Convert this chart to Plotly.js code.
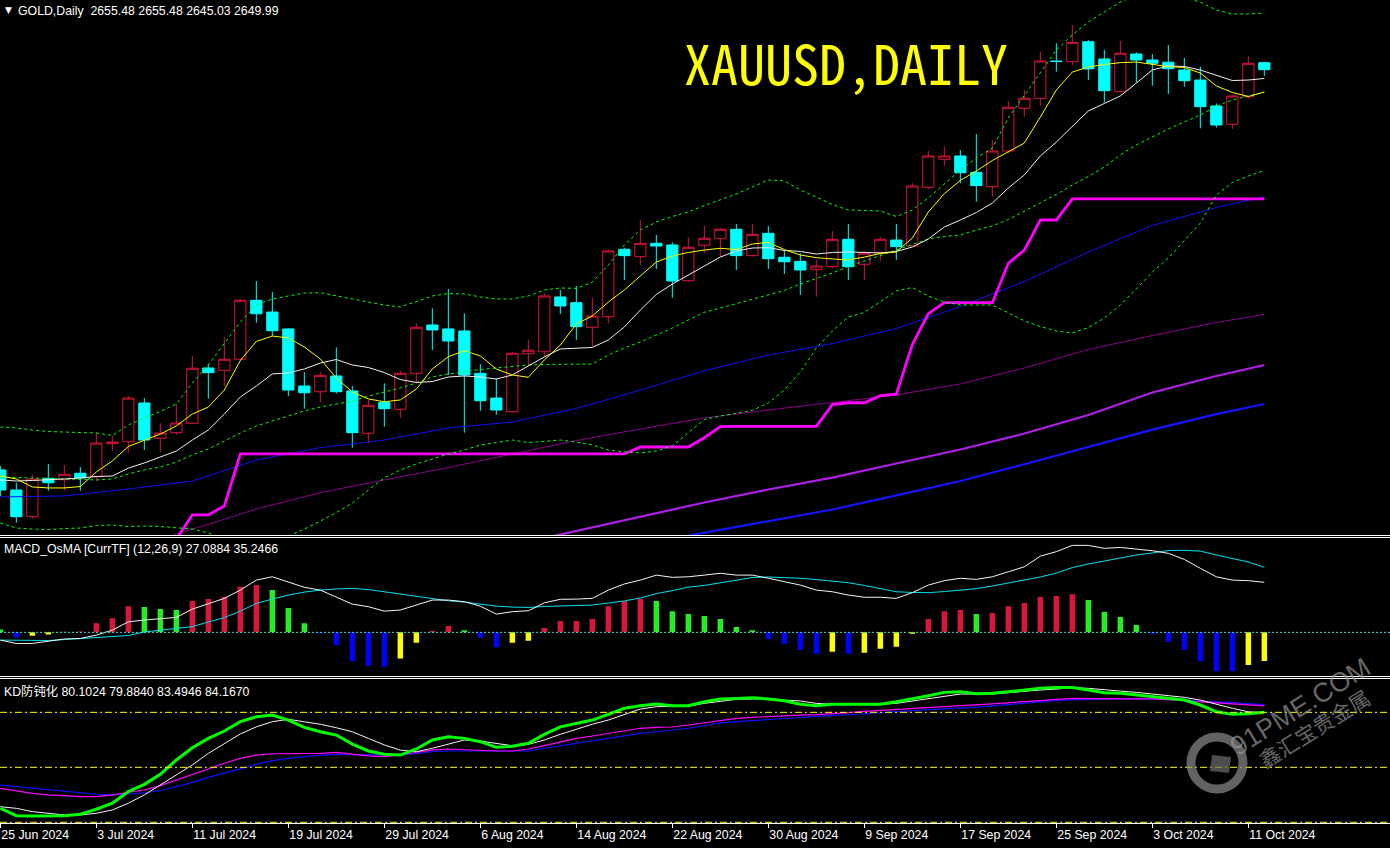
<!DOCTYPE html>
<html><head><meta charset="utf-8">
<script src="https://cdn.plot.ly/plotly-3.0.1.min.js"></script>
<style>html,body{margin:0;padding:0;background:#000;overflow:hidden}#chart{width:1390px;height:848px}</style>
</head><body><div id="chart"></div>
<script>
// ---------- tick labels ----------
const tickIdx = [0,6,12,18,24,30,36,42,48,54,60,66,72,78];
const dateLabels = ['25 Jun 2024','3 Jul 2024','11 Jul 2024','19 Jul 2024','29 Jul 2024','6 Aug 2024','14 Aug 2024','22 Aug 2024','30 Aug 2024','9 Sep 2024','17 Sep 2024','25 Sep 2024','3 Oct 2024','11 Oct 2024'];

// ---------- candles (bar index 0 = 25 Jun 2024 ... 79 = 14 Oct 2024) ----------
const candleOpen = [2334.3,2318.5,2297.4,2327.7,2326.6,2331.7,2329.0,2355.0,2356.6,2387.1,
 2359.3,2363.7,2371.1,2414.7,2412.9,2421.6,2468.1,2458.8,2445.5,2400.5,
 2396.0,2408.4,2396.6,2363.2,2387.6,2382.1,2410.5,2448.6,2445.5,2443.9,
 2410.5,2391.0,2380.2,2426.0,2427.5,2470.7,2466.2,2446.8,2455.2,2508.3,
 2502.5,2513.0,2511.7,2483.5,2511.5,2516.7,2524.1,2503.3,2520.9,2502.0,
 2498.8,2492.5,2494.6,2516.2,2496.5,2505.6,2515.6,2510.9,2557.2,2579.3,
 2581.9,2569.0,2557.7,2585.8,2619.5,2627.4,2656.8,2656.2,2672.0,2658.4,
 2632.6,2662.3,2657.6,2655.8,2649.7,2641.8,2621.3,2606.9,2628.6,2655.48];
const candleHigh = [2337.5,2324.2,2330.3,2339.0,2338.2,2336.6,2364.5,2361.3,2392.6,2391.0,
 2371.1,2386.3,2424.2,2417.8,2438.9,2469.1,2483.3,2474.6,2445.9,2411.5,
 2411.5,2431.0,2400.5,2389.5,2402.6,2412.3,2449.9,2461.8,2477.0,2457.8,
 2417.8,2406.6,2427.5,2436.8,2473.6,2476.2,2479.4,2469.9,2508.3,2509.6,
 2531.4,2519.6,2513.8,2517.8,2526.7,2525.1,2528.2,2528.2,2526.7,2507.0,
 2505.2,2499.9,2522.7,2528.2,2507.0,2518.2,2528.2,2560.4,2585.8,2589.2,
 2586.6,2599.2,2594.5,2625.3,2633.9,2664.1,2670.8,2685.2,2673.3,2665.5,
 2672.6,2663.7,2662.3,2669.4,2659.4,2652.3,2623.4,2630.0,2660.7,2655.48];
const candleLow = [2313.6,2292.7,2295.8,2317.9,2317.9,2317.9,2325.6,2349.5,2347.9,2350.0,
 2348.7,2361.9,2370.3,2390.5,2400.5,2419.7,2450.4,2439.9,2392.6,2382.6,
 2387.3,2394.5,2351.8,2355.3,2368.4,2375.5,2402.6,2428.9,2409.2,2363.7,
 2381.0,2377.9,2379.5,2416.3,2423.6,2457.3,2436.8,2431.5,2449.9,2484.1,
 2495.9,2492.8,2470.1,2482.5,2505.2,2502.5,2492.0,2502.5,2492.8,2488.8,
 2472.3,2470.9,2493.3,2484.1,2484.1,2499.3,2499.9,2510.1,2555.9,2574.2,
 2560.4,2545.8,2549.8,2584.0,2612.9,2621.3,2648.4,2653.6,2641.8,2623.9,
 2632.3,2639.7,2637.3,2630.8,2636.5,2603.7,2604.2,2603.2,2626.8,2645.03];
const candleClose = [2318.5,2297.4,2327.2,2324.2,2330.9,2328.0,2355.5,2356.3,2391.0,2357.9,
 2363.4,2371.3,2414.5,2411.0,2421.6,2468.1,2457.5,2444.1,2397.3,2395.2,
 2408.9,2396.0,2363.7,2385.3,2382.6,2410.5,2446.8,2444.7,2436.0,2409.2,
 2388.9,2381.6,2426.3,2428.7,2471.5,2463.6,2447.3,2455.7,2507.0,2503.3,
 2513.0,2510.9,2483.3,2509.9,2517.0,2524.1,2503.3,2520.1,2500.9,2498.5,
 2492.0,2495.1,2516.2,2494.6,2505.2,2516.2,2510.4,2558.2,2581.9,2581.9,
 2568.7,2558.5,2585.8,2620.3,2627.4,2656.8,2656.4,2671.5,2650.5,2633.4,
 2662.9,2657.6,2655.0,2650.7,2641.3,2620.8,2606.3,2629.2,2655.0,2649.99];

// ---------- main-pane indicator lines (read per bar) ----------
const maYellow = [2329.5,2327.2,2320.9,2320.1,2320.1,2321.2,2332.7,2341.4,2352.8,2357.9,
 2362.6,2369.0,2378.4,2383.9,2397.3,2420.6,2435.6,2439.9,2438.4,2431.3,
 2421.8,2406.8,2395.8,2390.3,2388.1,2389.5,2398.1,2413.9,2423.6,2428.3,
 2424.2,2413.9,2409.2,2407.4,2421.0,2432.8,2449.4,2455.7,2466.7,2476.2,
 2487.2,2498.3,2503.0,2505.8,2507.7,2509.1,2508.1,2512.5,2513.7,2508.1,
 2503.8,2501.7,2500.7,2499.9,2502.2,2505.0,2506.2,2517.2,2537.7,2552.2,
 2562.6,2570.0,2578.3,2585.4,2592.1,2612.6,2633.9,2648.1,2652.1,2654.0,
 2655.5,2656.0,2654.4,2652.3,2651.7,2647.3,2637.1,2632.0,2628.8,2632.3];
const maWhite = [2326.4,2325.6,2326.0,2326.4,2327.2,2328.0,2329.1,2329.5,2335.8,2339.8,
 2344.5,2349.2,2357.9,2365.8,2378.4,2391.8,2400.5,2410.0,2410.8,2413.9,
 2418.6,2421.4,2417.1,2415.1,2411.1,2405.6,2403.3,2404.0,2407.6,2408.4,
 2407.6,2406.0,2409.2,2416.3,2423.4,2429.7,2430.5,2430.9,2436.8,2447.0,
 2460.4,2472.7,2480.9,2488.0,2495.5,2502.2,2507.0,2509.3,2509.6,2507.4,
 2506.6,2504.6,2505.8,2506.2,2505.8,2505.4,2506.6,2510.1,2516.4,2525.9,
 2531.4,2537.3,2544.8,2556.6,2566.9,2581.9,2592.9,2605.5,2617.4,2623.3,
 2629.2,2639.4,2649.7,2652.9,2652.5,2649.7,2645.4,2641.4,2641.8,2643.0];
const bbUpper = [2368.2,2367.4,2365.8,2364.6,2364.2,2363.8,2363.4,2361.5,2369.8,2375.3,
 2380.4,2386.3,2402.9,2417.1,2434.4,2451.0,2464.4,2469.1,2471.5,2473.8,
 2474.1,2471.9,2469.1,2466.7,2464.4,2462.8,2467.1,2471.5,2473.4,2473.1,
 2470.7,2469.1,2469.1,2471.5,2476.2,2477.8,2477.5,2482.5,2495.9,2511.7,
 2523.5,2529.8,2534.2,2537.7,2542.8,2547.2,2551.9,2557.4,2563.0,2562.2,
 2555.1,2549.5,2543.6,2539.3,2538.9,2538.5,2534.2,2539.3,2548.8,2559.8,
 2570.8,2580.3,2588.2,2611.8,2630.0,2648.1,2665.5,2677.3,2687.6,2695.4,
 2703.3,2708.8,2709.6,2708.8,2706.5,2703.3,2697.0,2693.9,2693.9,2694.6];
const bbMiddle = [2328.7,2328.3,2327.9,2327.6,2327.2,2326.8,2326.4,2327.2,2331.1,2334.3,
 2336.6,2340.6,2346.1,2350.8,2357.1,2363.4,2369.0,2372.9,2376.8,2380.8,
 2383.9,2386.3,2388.7,2392.6,2395.8,2398.9,2402.9,2407.6,2410.0,2411.9,
 2413.5,2414.7,2415.9,2417.1,2417.5,2417.6,2417.7,2417.8,2424.9,2430.5,
 2435.2,2440.7,2446.2,2452.5,2458.6,2462.0,2465.6,2468.7,2472.3,2475.8,
 2480.9,2485.3,2489.6,2494.7,2499.1,2503.4,2507.4,2511.7,2516.4,2518.4,
 2519.6,2523.5,2526.7,2531.8,2538.5,2544.8,2551.5,2559.0,2565.7,2573.2,
 2582.7,2590.6,2596.9,2603.2,2608.7,2614.2,2621.3,2626.0,2629.2,2632.3];
const bbLower = [2292.5,2288.5,2287.7,2287.3,2288.1,2288.5,2290.5,2290.9,2289.7,2290.1,
 2289.7,2288.9,2287.7,2284.6,2279.8,2275.9,2273.5,2276.7,2282.2,2287.7,
 2294.0,2300.7,2308.2,2318.5,2328.0,2334.3,2339.0,2342.9,2346.9,2350.0,
 2354.0,2355.9,2357.9,2355.9,2357.1,2357.9,2356.3,2354.0,2350.0,2348.5,
 2347.7,2349.2,2353.2,2363.4,2374.1,2376.8,2378.8,2381.2,2387.1,2397.3,
 2411.5,2430.5,2443.9,2454.9,2458.5,2466.7,2475.4,2478.2,2471.5,2466.7,
 2464.4,2464.4,2464.4,2458.1,2451.8,2447.4,2443.9,2442.3,2446.6,2454.1,
 2464.4,2477.0,2490.4,2501.4,2515.6,2529.0,2551.1,2561.0,2566.1,2570.4];

// stepped support line (bars 11..79)
const stepIdx = [11,12,13,14,15,16,17,18,19,20,21,22,23,24,25,26,27,28,29,30,31,32,33,34,35,36,37,38,39,
 40,41,42,43,44,45,46,47,48,49,50,51,52,53,54,55,56,57,58,59,60,61,62,63,64,65,66,67,68,69,70,71,72,73,74,75,76,77,78,79];
const stepVal = [2279.8,2298.8,2298.8,2305.9,2346.9,2346.9,2346.9,2346.9,2346.9,2346.9,2346.9,2346.9,2346.9,2346.9,2346.9,2346.9,2346.9,2346.9,2346.9,2346.9,2346.9,2346.9,2346.9,2346.9,2346.9,2346.9,2346.9,2346.9,2346.9,
 2352.4,2352.4,2352.4,2352.4,2359.7,2368.4,2368.6,2368.6,2368.6,2368.6,2368.6,2368.6,2385.8,2387.3,2387.3,2392.9,2394.0,2433.2,2457.5,2466.2,2466.2,2466.2,2466.2,2497.3,2507.7,2531.4,2531.4,
 2548.0,2548.0,2548.0,2548.0,2548.0,2548.0,2548.0,2548.0,2548.0,2548.0,2548.0,2548.0,2548.0];

// slow moving averages (read at sampled bars)
const blueMaIdx = [0,4,8,12,16,20,24,28,32,36,40,44,48,52,56,60,64,68,72,76,79];
const blueMaVal = [2313.0,2313.8,2319.3,2325.6,2342.1,2351.9,2357.9,2367.4,2372.1,2382.8,2397.3,2412.5,2424.9,2434.0,2445.8,2463.2,2482.9,2506.2,2527.1,2541.3,2549.8];
const purpleMaIdx = [10,11,12,13,16,20,24,28,32,36,40,44,48,52,56,60,64,68,72,76,79];
const purpleMaVal = [2279.1,2283.8,2287.7,2291.4,2303.5,2316.4,2326.4,2336.2,2346.9,2357.5,2366.6,2375.3,2381.6,2387.5,2393.4,2402.1,2414.7,2429.3,2440.3,2450.6,2457.0];
const violetMaIdx = [34,36,40,44,48,52,56,60,64,68,72,76,79];
const violetMaVal = [2280.6,2286.2,2297.2,2308.6,2318.9,2328.3,2339.4,2350.4,2363.0,2377.6,2395.4,2408.4,2417.1];
const deepBlueMaIdx = [42,44,48,52,56,60,64,68,72,76,79];
const deepBlueMaVal = [2280.2,2284.7,2293.9,2303.1,2314.2,2325.6,2338.8,2352.4,2366.1,2378.3,2386.3];

// ---------- MACD_OsMA ----------
const osmaHist = [1.6,-2.9,-1.8,-1.1,0.3,0.5,5.0,7.7,14.2,13.7,
 12.6,12.1,17.0,18.0,19.3,24.7,25.6,22.9,13.2,5.0,
 -0.5,-6.9,-15.5,-18.1,-18.6,-14.1,-5.6,0.7,3.4,1.2,
 -2.9,-8.0,-5.6,-4.5,2.3,6.1,6.1,7.2,14.2,17.0,
 18.0,17.0,11.5,9.9,8.8,7.2,2.9,1.2,-3.6,-6.2,
 -9.4,-11.6,-10.5,-11.6,-11.0,-8.9,-7.8,-0.7,7.2,11.5,
 12.1,9.9,10.5,14.2,15.9,19.1,19.7,20.7,17.5,11.0,
 8.3,4.0,-0.7,-5.1,-9.4,-15.5,-21.0,-21.0,-17.7,-15.5];
const osmaColorCodes = 'GBYYRRRRRG'+'GGRRRRRGGG'+'BBBBBYYRRG'+'BBYYRRRRRR'+'RGGGGGGGBB'+'BBYBYYYYRR'+'RGRRRRRRGG'+'GGBBBBBBYY';
const macdMain = [-4.2,-6.0,-6.0,-4.6,-3.6,-3.3,-1.5,1.2,5.7,6.7,
 7.4,8.1,12.6,15.3,18.4,22.9,28.3,30.1,27.4,24.4,
 22.9,19.3,15.3,13.9,11.5,12.1,14.8,17.5,17.5,16.6,
 14.2,9.9,11.2,11.7,16.0,17.9,18.0,18.4,22.9,26.2,
 28.3,31.0,29.8,30.1,31.0,32.0,31.0,31.0,29.3,27.4,
 25.6,22.9,22.0,20.2,19.0,19.0,18.4,21.5,25.6,28.0,
 29.3,28.7,30.1,32.8,35.5,41.3,43.7,47.1,47.1,45.5,
 46.0,45.1,44.2,42.8,39.5,34.7,30.1,28.3,28.0,27.09];
const macdSignal = [-4.2,-4.4,-4.6,-4.4,-3.9,-3.4,-3.1,-2.5,-1.7,0.2,
 1.2,2.3,3.1,5.6,8.0,11.5,15.7,18.0,20.2,21.8,
 22.9,23.5,23.8,23.2,22.0,20.7,19.3,18.3,17.1,16.4,
 15.3,14.2,13.7,13.5,14.0,14.2,14.4,14.8,15.9,17.0,
 18.6,21.0,22.6,24.5,25.4,26.7,28.3,29.7,30.0,29.7,
 29.3,28.6,27.8,26.9,25.4,23.5,22.0,21.6,21.5,22.1,
 22.8,23.7,25.1,26.7,28.6,30.0,32.1,35.1,37.0,38.6,
 40.2,41.9,43.0,44.3,44.4,44.0,41.9,40.0,38.1,35.25];

// ---------- KD ----------
const kdGreen = [27.6,23.6,23.4,23.4,23.6,24.4,27.1,30.4,36.7,40.7,
 46.2,54.0,60.7,65.8,69.8,74.9,77.6,78.5,75.8,71.8,
 69.4,67.6,62.7,58.9,57.1,56.7,60.0,64.9,66.7,65.8,
 64.0,60.9,61.5,63.1,68.0,72.1,74.0,75.8,78.9,82.2,
 83.6,84.5,83.6,83.6,85.8,87.3,87.6,88.0,87.3,86.3,
 84.4,83.6,84.4,84.4,84.0,84.4,85.8,87.3,89.1,90.9,
 91.2,90.1,90.4,91.2,92.2,93.1,93.6,93.6,92.2,90.7,
 90.4,89.4,88.5,87.6,86.7,84.0,80.3,78.9,79.2,80.1];
const kdWhite = [28.5,27.6,25.8,24.9,24.0,24.0,24.9,26.7,30.4,34.9,
 40.3,45.8,51.3,57.6,63.1,68.2,72.1,74.9,76.2,74.9,
 73.5,71.6,69.4,65.8,62.2,59.4,58.5,60.4,62.7,64.9,
 64.3,63.1,61.8,62.5,64.9,68.0,70.9,73.5,75.8,78.9,
 81.8,83.1,83.4,83.4,84.9,86.2,87.1,87.3,87.6,86.7,
 86.2,84.9,84.4,84.4,84.4,84.4,84.9,86.2,87.6,89.1,
 90.0,90.0,90.0,90.7,91.6,92.2,92.7,93.4,93.1,92.2,
 91.6,90.9,90.0,89.1,88.2,86.7,84.4,82.2,80.3,79.9];
const kdMagenta = [38.5,37.1,35.8,34.9,34.3,34.0,34.0,34.9,36.4,37.6,
 40.0,43.1,45.8,49.1,52.2,54.9,56.7,57.4,57.5,57.5,
 57.6,58.2,57.1,56.2,55.8,56.7,58.2,59.4,60.0,59.6,
 59.3,58.9,58.9,60.0,61.8,64.0,65.8,67.1,68.5,70.3,
 71.3,71.8,72.0,73.1,74.2,75.5,76.7,77.3,77.8,78.2,
 78.5,78.8,79.2,79.8,80.5,81.1,81.6,82.1,82.7,83.2,
 83.7,84.1,84.6,85.1,85.8,86.4,87.1,87.6,87.5,87.3,
 87.3,87.3,87.3,87.0,86.4,85.7,85.1,84.4,83.9,83.5];
const kdBlue = [40.3,39.4,38.5,37.6,36.7,35.8,35.3,34.9,35.4,36.1,
 37.2,39.4,41.8,44.5,46.7,49.1,51.6,53.6,54.9,55.8,
 56.7,57.1,57.1,57.1,56.7,56.7,57.6,58.5,58.9,58.9,
 58.9,58.9,58.9,58.9,60.4,61.8,63.1,64.3,65.8,67.2,
 68.5,69.4,70.3,71.3,72.7,74.2,74.9,75.5,76.2,76.8,
 77.3,77.8,78.3,78.7,79.3,79.9,80.5,81.2,81.5,81.9,
 82.2,82.9,83.5,84.3,85.0,85.8,86.4,86.8,87.1,87.3,
 87.3,87.3,87.3,86.9,86.5,86.2,85.8,85.3,84.8,84.2];
const kdLevels = [80, 50, 20];

// ---------- rendering ----------
const W = 1390, H = 848;
const pxX = v => v / W;
const pxY = v => 1 - v / H;
const barIdx = candleOpen.map((_, i) => i);
const RED = '#DC143C', CYAN = '#00FFFF';
const histColorMap = {R:'#DC143C', G:'#22EE22', B:'#0000FF', Y:'#FFFF00'};
const histColors = osmaColorCodes.split('').map(c => histColorMap[c]);

function line(x, y, yaxis, color, width, dash) {
  return {type:'scatter', mode:'lines', x:x, y:y, xaxis:'x', yaxis:yaxis,
    line:{color:color, width:width, dash:dash || 'solid', shape:'linear'}, hoverinfo:'skip'};
}

const traces = [
  {type:'candlestick', x:barIdx, open:candleOpen, high:candleHigh, low:candleLow, close:candleClose,
   xaxis:'x', yaxis:'y', whiskerwidth:0, hoverinfo:'skip',
   increasing:{line:{color:RED, width:1}, fillcolor:'#000000'},
   decreasing:{line:{color:CYAN, width:1}, fillcolor:CYAN}},
  line(deepBlueMaIdx, deepBlueMaVal, 'y', '#1414FF', 2.2),
  line(violetMaIdx, violetMaVal, 'y', '#B01EE8', 2.2),
  line(purpleMaIdx, purpleMaVal, 'y', '#8B008B', 1),
  line(blueMaIdx, blueMaVal, 'y', '#1010F0', 1),
  line(stepIdx, stepVal, 'y', '#FF00FF', 2.8),
  line(barIdx, bbUpper, 'y', '#00FF00', 1, '3px,3px'),
  line(barIdx, bbMiddle, 'y', '#00FF00', 1, '3px,3px'),
  line(barIdx, bbLower, 'y', '#00FF00', 1, '3px,3px'),
  line(barIdx, maWhite, 'y', '#F0F0F0', 1),
  line(barIdx, maYellow, 'y', '#FFFF00', 1),
  {type:'bar', x:barIdx, y:osmaHist, xaxis:'x', yaxis:'y2', width:0.34,
   marker:{color:histColors, line:{width:0}}, hoverinfo:'skip'},
  line(barIdx, macdSignal, 'y2', '#00E0F0', 1),
  line(barIdx, macdMain, 'y2', '#F4F4F4', 1),
  line(barIdx, kdBlue, 'y3', '#1010FF', 1.2),
  line(barIdx, kdMagenta, 'y3', '#FF00FF', 1.2),
  line(barIdx, kdWhite, 'y3', '#F4F4F4', 1),
  line(barIdx, kdGreen, 'y3', '#00FF00', 3)
];

const shapes = [];
[535.5, 537.5, 676.5, 678.5].forEach(v => shapes.push({type:'line', xref:'paper', yref:'paper',
  x0:0, x1:1, y0:pxY(v), y1:pxY(v), line:{color:'#FFFFFF', width:1.2}}));
kdLevels.forEach(v => shapes.push({type:'line', xref:'paper', yref:'y3', x0:0, x1:1, y0:v, y1:v,
  line:{color:'#FFFF00', width:1, dash:'7px,3px,2px,3px'}}));
shapes.push({type:'line', xref:'paper', yref:'y2', x0:0, x1:1, y0:0, y1:0,
  line:{color:'#40E0D0', width:1, dash:'2px,2px'}});
// watermark logo ring
shapes.push({type:'circle', xref:'paper', yref:'paper', x0:pxX(1191), x1:pxX(1243), y0:pxY(789), y1:pxY(737),
  line:{color:'rgba(140,140,140,0.7)', width:9}});
shapes.push({type:'path', xref:'paper', yref:'paper',
  path:`M ${pxX(1212)} ${pxY(755)} L ${pxX(1231)} ${pxY(757)} L ${pxX(1229)} ${pxY(773)} L ${pxX(1210)} ${pxY(771)} Z`,
  fillcolor:'rgba(110,110,110,0.7)', line:{width:0}});

const labelFont = {family:'Liberation Sans, Arial, sans-serif', size:12.3, color:'#FFFFFF'};
const annotations = [
  {xref:'paper', yref:'paper', x:pxX(2.5), y:pxY(10), xanchor:'left', yanchor:'middle', showarrow:false,
   text:'▼', font:{family:'DejaVu Sans', size:9, color:'#FFFFFF'}},
  {xref:'paper', yref:'paper', x:pxX(16), y:pxY(10.5), xanchor:'left', yanchor:'middle', showarrow:false,
   text:'GOLD,Daily\u00a0\u00a02655.48 2655.48 2645.03 2649.99', font:labelFont},
  {xref:'paper', yref:'paper', x:pxX(2), y:pxY(549), xanchor:'left', yanchor:'middle', showarrow:false,
   text:'MACD_OsMA [CurrTF] (12,26,9) 27.0884 35.2466', font:labelFont},
  {xref:'paper', yref:'paper', x:pxX(2), y:pxY(691), xanchor:'left', yanchor:'middle', showarrow:false,
   text:'KD防钝化 80.1024 79.8840 83.4946 84.1670',
   font:{family:'Liberation Sans, Noto Sans CJK SC, sans-serif', size:12.3, color:'#FFFFFF'}},
  {xref:'paper', yref:'paper', x:pxX(846), y:pxY(61), xanchor:'center', yanchor:'middle', showarrow:false,
   text:'XAUUSD,DAILY', font:{family:'Noto Sans Mono CJK SC, DejaVu Sans Mono, monospace', size:54, color:'#FFFF00'}},
  {xref:'paper', yref:'paper', x:pxX(1300), y:pxY(707), xanchor:'center', yanchor:'middle', showarrow:false,
   text:'91PME.COM', textangle:-32, font:{family:'Liberation Sans, Arial, sans-serif', size:27, color:'rgba(150,150,150,0.7)'}},
  {xref:'paper', yref:'paper', x:pxX(1314), y:pxY(728), xanchor:'center', yanchor:'middle', showarrow:false,
   text:'鑫汇宝贵金属', textangle:-32, font:{family:'Noto Sans CJK SC, sans-serif', size:21, color:'rgba(150,150,150,0.7)'}}
];

const hiddenY = {showgrid:false, zeroline:false, showticklabels:false, ticks:'', showline:false, fixedrange:true, anchor:'x'};
const layout = {
  width:W, height:H, margin:{l:0, r:0, t:0, b:0, pad:0},
  paper_bgcolor:'#000000', plot_bgcolor:'#000000',
  showlegend:false, hovermode:false, dragmode:false,
  boxgap:0.3, boxgroupgap:0,
  xaxis:{domain:[0,1], range:[-0.02, 86.855], anchor:'y3', showgrid:false, zeroline:false,
    tickmode:'array', tickvals:tickIdx, ticktext:dateLabels, ticks:'outside', ticklen:4, tickwidth:1,
    tickcolor:'#FFFFFF', tickfont:labelFont, ticklabelposition:'outside right',
    showline:true, linecolor:'#FFFFFF', linewidth:1, rangeslider:{visible:false}, fixedrange:true},
  yaxis:Object.assign({domain:[pxY(535), 1], range:[2283.0, 2704.9]}, hiddenY),
  yaxis2:Object.assign({domain:[pxY(676.5), pxY(538)], range:[-23.9, 51.1]}, hiddenY),
  yaxis3:Object.assign({domain:[pxY(823), pxY(679)], range:[19.6, 98.2]}, hiddenY),
  shapes:shapes, annotations:annotations
};

Plotly.newPlot('chart', traces, layout, {staticPlot:true, displayModeBar:false});
</script>
</body></html>
